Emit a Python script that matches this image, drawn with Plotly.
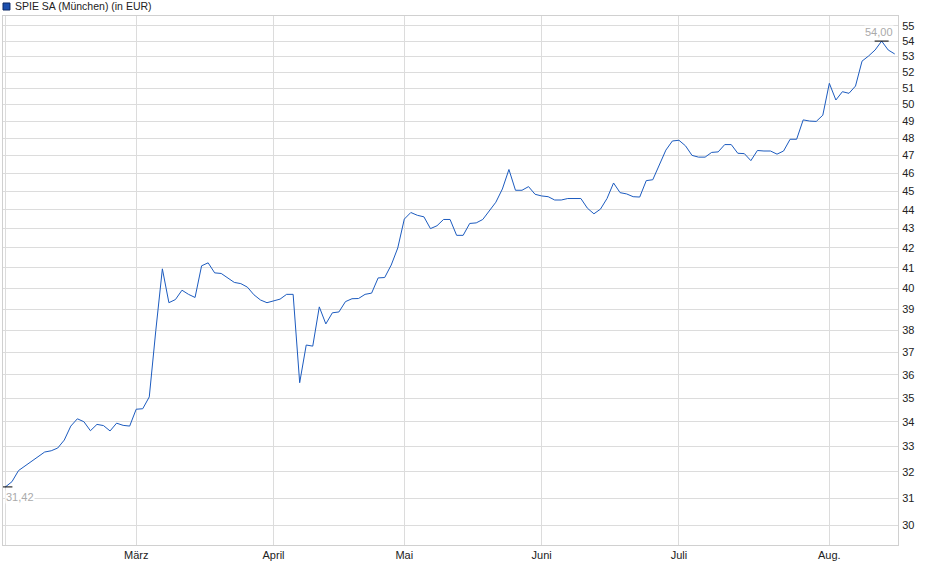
import math

import pandas as pd
import plotly.graph_objects as go

# trading days at the Munich exchange, Feb 3 - Aug 15 2025 (no trading on Good Friday, Easter Monday, May 1)
holidays = ['2025-04-18', '2025-04-21', '2025-05-01']
days = [d for d in pd.bdate_range('2025-02-03', '2025-08-15') if d.strftime('%Y-%m-%d') not in holidays]
dates = [d.strftime('%Y-%m-%d') for d in days]

prices = [
    31.42, 31.62, 32.05, 32.23, 32.43, 32.62, 32.78, 32.83, 32.94, 33.26,
    33.83, 34.13, 34.01, 33.64, 33.90, 33.85, 33.63, 33.95, 33.86, 33.83,
    34.53, 34.55, 35.05, 38.00, 40.95, 39.30, 39.45, 39.90, 39.70, 39.55,
    41.10, 41.25, 40.75, 40.72, 40.50, 40.28, 40.22, 40.05, 39.68, 39.43,
    39.30, 39.38, 39.47, 39.70, 39.70, 35.66, 37.33, 37.28, 39.10, 38.30,
    38.82, 38.86, 39.35, 39.49, 39.50, 39.70, 39.76, 40.50, 40.52, 41.14,
    42.00, 43.50, 43.85, 43.70, 43.62, 43.00, 43.15, 43.48, 43.48, 42.65,
    42.65, 43.27, 43.30, 43.48, 43.93, 44.40, 45.12, 46.20, 45.05, 45.05,
    45.25, 44.83, 44.74, 44.70, 44.52, 44.52, 44.60, 44.60, 44.60, 44.08,
    43.78, 44.03, 44.60, 45.45, 44.92, 44.85, 44.70, 44.68, 45.58, 45.63,
    46.47, 47.30, 47.83, 47.87, 47.55, 47.00, 46.90, 46.90, 47.17, 47.20,
    47.62, 47.62, 47.12, 47.10, 46.70, 47.28, 47.25, 47.25, 47.07, 47.25,
    47.93, 47.93, 49.07, 49.00, 48.98, 49.35, 51.30, 50.27, 50.78, 50.68,
    51.13, 52.70, 53.03, 53.42, 54.00, 53.42, 53.16,
]

month_names = ['', 'März', 'April', 'Mai', 'Juni', 'Juli', 'Aug.']
y_ticks = list(range(30, 56))

# first trading day of every month gets a grid line
month_starts = []
for i, d in enumerate(days):
    if i == 0 or d.month != days[i - 1].month:
        month_starts.append(dates[i])

i_min = prices.index(min(prices))
i_max = prices.index(max(prices))

font = 'Liberation Sans, Arial, sans-serif'

fig = go.Figure()
fig.add_trace(go.Scatter(
    x=dates, y=prices, mode='lines',
    line=dict(color='#1c5bbf', width=1),
    hoverinfo='x+y'
))
# small black bars on the low and high of the period
fig.add_trace(go.Scatter(
    x=[dates[i_min], dates[i_max]], y=[prices[i_min], prices[i_max]],
    mode='markers',
    marker=dict(symbol='line-ew', size=10, line=dict(color='black', width=1)),
    hoverinfo='skip'
))

fig.add_annotation(
    x=dates[i_min], y=math.log10(prices[i_min]), text='{:.2f}'.format(prices[i_min]).replace('.', ','),
    showarrow=False, xanchor='left', yanchor='middle', yshift=-10,
    font=dict(family=font, size=11, color='#aaaaaa'), bgcolor='white', borderpad=0
)
fig.add_annotation(
    x=dates[i_max], y=math.log10(prices[i_max]), text='{:.2f}'.format(prices[i_max]).replace('.', ','),
    showarrow=False, xanchor='center', yanchor='middle', yshift=9, xshift=-3,
    font=dict(family=font, size=11, color='#aaaaaa'), bgcolor='white', borderpad=0
)

# legend box drawn by hand, top left
fig.add_shape(type='rect', xref='paper', yref='paper',
              x0=0.0, x1=0.0078, y0=1.0113, y1=1.0246,
              fillcolor='#1b4fae', line=dict(color='#0d2a66', width=1))
fig.add_annotation(
    xref='paper', yref='paper', x=0.0112, y=1.0185, text='SPIE SA (München) (in EUR)',
    showarrow=False, xanchor='left', yanchor='middle',
    font=dict(family=font, size=10.5, color='#222222')
)

fig.update_layout(
    width=940, height=579,
    margin=dict(l=3, r=42, t=16, b=34),
    paper_bgcolor='white', plot_bgcolor='white',
    showlegend=False,
    font=dict(family=font, size=11, color='#222222'),
    xaxis=dict(
        type='category',
        range=[-0.37, len(dates) - 0.5],
        tickvals=month_starts, ticktext=month_names,
        showgrid=True, gridcolor='#dcdcdc', gridwidth=1,
        showline=True, linecolor='#d0d0d0', mirror=True,
        ticks='', tickangle=0
    ),
    yaxis=dict(
        type='log', side='right',
        range=[math.log10(29.28), math.log10(55.67)],
        tickvals=y_ticks, ticktext=[str(v) for v in y_ticks],
        showgrid=True, gridcolor='#dcdcdc', gridwidth=1,
        showline=True, linecolor='#d0d0d0', mirror=True,
        ticks='', ticklabelstandoff=1
    )
)

# the page's default body margin would push the chart 8px right and down
fig.write_html('out.html', config={'displayModeBar': False},
               post_script="document.body.style.margin = '0';")
